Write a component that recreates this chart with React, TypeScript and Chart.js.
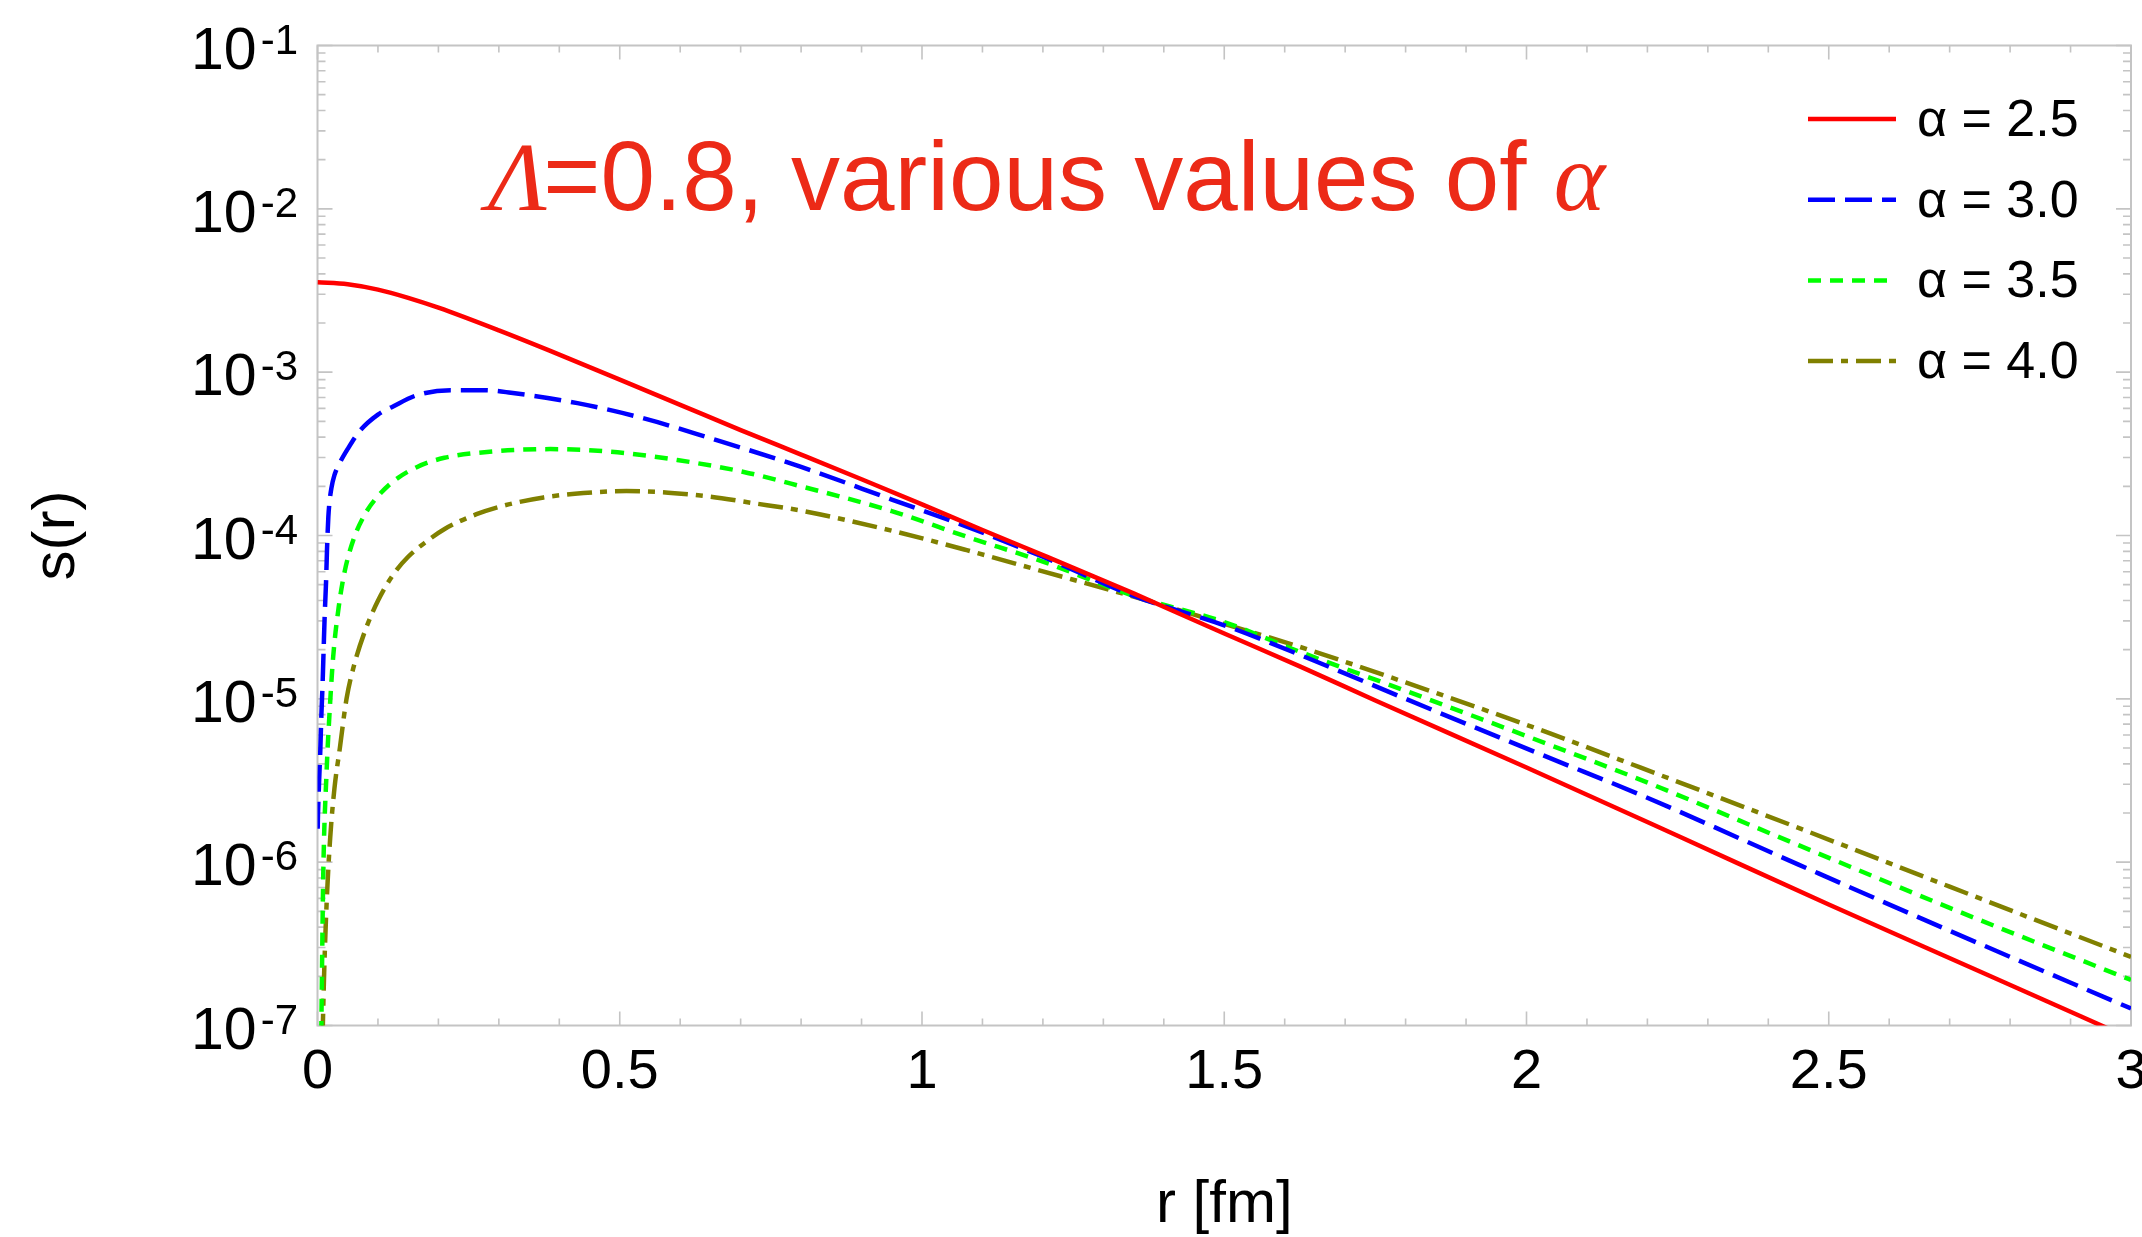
import React, { useEffect, useRef } from 'react';
import { Chart, registerables } from 'chart.js';

Chart.register(...registerables);

const W = 2142;
const H = 1237;

// ---- data ----
const rAlpha25 = [0, 0.05, 0.1, 0.15, 0.2, 0.3, 0.4, 0.5, 0.6, 0.7, 0.8, 0.9, 1.0, 1.1, 1.2, 1.35, 1.5, 1.625, 1.75, 2.0, 2.25, 2.5, 2.75, 3.0];
const sAlpha25 = [3.55e-3, 3.45e-3, 3.2e-3, 2.85e-3, 2.48e-3, 1.80e-3, 1.28e-3, 9.0e-4, 6.31e-4, 4.42e-4, 3.13e-4, 2.21e-4, 1.55e-4, 1.08e-4, 7.59e-5, 4.42e-5, 2.51e-5, 1.58e-5, 9.77e-6, 3.80e-6, 1.45e-6, 5.5e-7, 2.14e-7, 8.3e-8];

const rAlpha30 = [0.0003, 0.0008, 0.0025, 0.0047, 0.0063, 0.0085, 0.0102, 0.0119, 0.0141, 0.0157, 0.0179, 0.02, 0.023, 0.028, 0.037, 0.05, 0.07, 0.1, 0.125, 0.165, 0.22, 0.275, 0.32, 0.43, 0.54, 0.65, 0.8, 0.95, 1.075, 1.2, 1.35, 1.5, 1.625, 1.8, 2.04, 2.19, 2.45, 2.7, 3.0];
const sAlpha30 = [1.6e-6, 1.95e-6, 3.02e-6, 4.9e-6, 7.76e-6, 1.26e-5, 2.04e-5, 3.24e-5, 5.13e-5, 8.13e-5, 1.29e-4, 1.62e-4, 1.95e-4, 2.34e-4, 2.79e-4, 3.39e-4, 4.37e-4, 5.5e-4, 6.17e-4, 7.24e-4, 7.76e-4, 7.76e-4, 7.48e-4, 6.46e-4, 5.21e-4, 3.94e-4, 2.63e-4, 1.66e-4, 1.13e-4, 7.41e-5, 4.27e-5, 2.82e-5, 1.86e-5, 1.0e-5, 4.32e-6, 2.57e-6, 9.66e-7, 3.8e-7, 1.27e-7];

const rAlpha35 = [0.0062, 0.0096, 0.015, 0.02, 0.026, 0.035, 0.045, 0.06, 0.08, 0.1, 0.125, 0.165, 0.21, 0.29, 0.385, 0.485, 0.595, 0.705, 0.8, 0.95, 1.075, 1.2, 1.35, 1.5, 1.625, 1.8, 2.04, 2.19, 2.45, 2.7, 3.0];
const sAlpha35 = [8.9e-8, 8.7e-7, 3.55e-6, 8.3e-6, 1.82e-5, 3.63e-5, 6.03e-5, 9.55e-5, 1.38e-4, 1.74e-4, 2.14e-4, 2.63e-4, 2.99e-4, 3.27e-4, 3.38e-4, 3.26e-4, 2.9e-4, 2.45e-4, 2.0e-4, 1.41e-4, 9.8e-5, 6.92e-5, 4.27e-5, 2.95e-5, 1.94e-5, 1.12e-5, 5.2e-6, 3.18e-6, 1.27e-6, 5.25e-7, 1.9e-7];

const rAlpha40 = [0.0083, 0.011, 0.015, 0.021, 0.028, 0.037, 0.048, 0.06, 0.08, 0.1, 0.125, 0.15, 0.181, 0.211, 0.263, 0.31, 0.374, 0.44, 0.511, 0.58, 0.649, 0.72, 0.8, 0.95, 1.074, 1.2, 1.35, 1.5, 1.625, 1.8, 2.039, 2.188, 2.452, 2.7, 3.0];
const sAlpha40 = [8.3e-8, 2.09e-7, 5.5e-7, 1.41e-6, 2.82e-6, 5.0e-6, 1.0e-5, 1.58e-5, 2.69e-5, 3.98e-5, 5.75e-5, 7.41e-5, 9.23e-5, 1.1e-4, 1.35e-4, 1.53e-4, 1.71e-4, 1.82e-4, 1.87e-4, 1.83e-4, 1.73e-4, 1.58e-4, 1.42e-4, 1.07e-4, 8.13e-5, 6.03e-5, 4.22e-5, 2.88e-5, 2.08e-5, 1.26e-5, 6.14e-6, 3.8e-6, 1.61e-6, 7.08e-7, 2.63e-7];

const seriesLabels = ['α = 2.5', 'α = 3.0', 'α = 3.5', 'α = 4.0'];
const seriesColors = ['#ff0000', '#0000ff', '#00ff00', '#808000'];
const seriesDashes: number[][] = [[], [27, 10], [13, 9], [25, 8, 7, 8]];

const xMin = 0;
const xMax = 3;
const xTickStep = 0.5;
const yExponents = [-1, -2, -3, -4, -5, -6, -7];
const yMin = 1e-7;
const yMax = 1e-1;

const titlePrefix = 'Λ';
const titleMiddle = '=0.8, various values of ';
const titleSuffix = 'α';
const xTitle = 'r [fm]';
const yTitle = 's(r)';

const SANS = "'Liberation Sans', Arial, Helvetica, sans-serif";
const SERIF = "'Liberation Serif', 'Times New Roman', serif";
const FRAME_COLOR = '#c4c4c4';
const TITLE_COLOR = '#ec2a17';

const toPoints = (xs: number[], ys: number[]) => xs.map((x, i) => ({ x, y: ys[i] }));

const framePlugin = {
  id: 'frameTicks',
  beforeDatasetsDraw(chart: any) {
    const { ctx, chartArea: a, scales } = chart;
    const xs = scales.x;
    const ys = scales.y;
    ctx.save();
    ctx.strokeStyle = FRAME_COLOR;
    ctx.lineWidth = 2;
    ctx.strokeRect(a.left, a.top, a.right - a.left, a.bottom - a.top);
    ctx.lineWidth = 1.6;
    ctx.beginPath();
    const nx = Math.round((xMax - xMin) / 0.1);
    for (let i = 0; i <= nx; i++) {
      const v = xMin + i * 0.1;
      const px = xs.getPixelForValue(v);
      const len = i % 5 === 0 ? 14 : 7;
      ctx.moveTo(px, a.bottom);
      ctx.lineTo(px, a.bottom - len);
      ctx.moveTo(px, a.top);
      ctx.lineTo(px, a.top + len);
    }
    for (const e of yExponents) {
      for (let m = 1; m <= 9; m++) {
        const v = m * Math.pow(10, e);
        if (v > yMax * 1.0001 || v < yMin * 0.9999) continue;
        const py = ys.getPixelForValue(v);
        const len = m === 1 ? 15 : 8;
        ctx.moveTo(a.left, py);
        ctx.lineTo(a.left + len, py);
        ctx.moveTo(a.right, py);
        ctx.lineTo(a.right - len, py);
      }
    }
    ctx.stroke();
    ctx.restore();
  },
  afterDraw(chart: any) {
    const { ctx, chartArea: a, scales } = chart;
    const ys = scales.y;
    ctx.save();
    // y tick labels 10^k
    ctx.fillStyle = '#000';
    ctx.textBaseline = 'alphabetic';
    for (const e of yExponents) {
      const py = ys.getPixelForValue(Math.pow(10, e));
      const exp = String(e);
      ctx.font = `42px ${SANS}`;
      const ew = ctx.measureText(exp).width;
      const ex = a.left - 19.5 - ew;
      ctx.textAlign = 'left';
      ctx.fillText(exp, ex, py + 8);
      ctx.font = `59px ${SANS}`;
      ctx.textAlign = 'right';
      ctx.fillText('10', ex - 4, py + 23);
    }

    // legend
    const lx0 = 1808;
    const lx1 = 1896;
    const ly0 = 119;
    const lstep = 80.7;
    chart.data.datasets.forEach((ds: any, i: number) => {
      const y = ly0 + i * lstep;
      ctx.strokeStyle = ds.borderColor;
      ctx.lineWidth = 4.5;
      ctx.setLineDash(ds.borderDash || []);
      ctx.beginPath();
      ctx.moveTo(lx0, y);
      ctx.lineTo(lx1, y);
      ctx.stroke();
      ctx.setLineDash([]);
      ctx.fillStyle = '#000';
      ctx.font = `52px ${SANS}`;
      ctx.textAlign = 'left';
      ctx.fillText(ds.label, 1917, y + 17);
    });

    // title annotation
    ctx.fillStyle = TITLE_COLOR;
    ctx.textAlign = 'left';
    let tx = 488;
    const ty = 210;
    ctx.font = `italic 98px ${SERIF}`;
    ctx.fillText(titlePrefix, tx, ty);
    tx += ctx.measureText(titlePrefix).width - 4;
    ctx.font = `98px ${SANS}`;
    ctx.fillText(titleMiddle, tx, ty);
    tx += ctx.measureText(titleMiddle).width;
    ctx.font = `italic 98px ${SERIF}`;
    ctx.fillText(titleSuffix, tx, ty);
    ctx.restore();
  },
};

export default function App() {
  const canvasRef = useRef<HTMLCanvasElement | null>(null);

  useEffect(() => {
    const canvas = canvasRef.current;
    if (!canvas) return;
    const seriesR = [rAlpha25, rAlpha30, rAlpha35, rAlpha40];
    const seriesS = [sAlpha25, sAlpha30, sAlpha35, sAlpha40];
    const chart = new Chart(canvas, {
      type: 'scatter',
      data: {
        datasets: seriesLabels.map((label, i) => ({
          label,
          data: toPoints(seriesR[i], seriesS[i]),
          showLine: true,
          borderColor: seriesColors[i],
          backgroundColor: seriesColors[i],
          borderWidth: 4.5,
          borderDash: seriesDashes[i],
          pointRadius: 0,
          cubicInterpolationMode: 'monotone',
          fill: false,
        })),
      },
      options: {
        responsive: false,
        animation: false,
        devicePixelRatio: 1,
        layout: { padding: { top: 45.5, right: 11, left: 0, bottom: 0 } },
        plugins: {
          legend: { display: false },
          tooltip: { enabled: false },
          title: { display: false },
        },
        scales: {
          x: {
            type: 'linear',
            position: 'bottom',
            min: xMin,
            max: xMax,
            border: { display: false },
            grid: { display: false, drawTicks: false },
            ticks: {
              stepSize: xTickStep,
              autoSkip: false,
              maxRotation: 0,
              padding: 13,
              color: '#000',
              font: { family: SANS, size: 56 },
              callback: (v: any) => String(Number(v)),
            },
            title: {
              display: true,
              text: xTitle,
              color: '#000',
              font: { family: SANS, size: 60, lineHeight: 1 },
              padding: { top: 0, bottom: 2 },
            },
            afterFit: (s: any) => {
              s.height = 211.5;
              s.paddingLeft = 0;
              s.paddingRight = 0;
            },
          },
          y: {
            type: 'logarithmic',
            position: 'left',
            min: yMin,
            max: yMax,
            border: { display: false },
            grid: { display: false, drawTicks: false },
            ticks: { display: false },
            title: {
              display: true,
              text: yTitle,
              color: '#000',
              font: { family: SANS, size: 60, lineHeight: 1 },
              padding: { top: 27, bottom: 0 },
            },
            afterFit: (s: any) => {
              s.width = 317.5;
              s.paddingTop = 0;
              s.paddingBottom = 0;
            },
          },
        },
      } as any,
      plugins: [framePlugin],
    });
    return () => chart.destroy();
  }, []);

  return (
    <div style={{ position: 'fixed', left: 0, top: 0, width: W, height: H, background: '#fff' }}>
      <canvas ref={canvasRef} width={W} height={H} style={{ display: 'block', width: W, height: H }} />
    </div>
  );
}
